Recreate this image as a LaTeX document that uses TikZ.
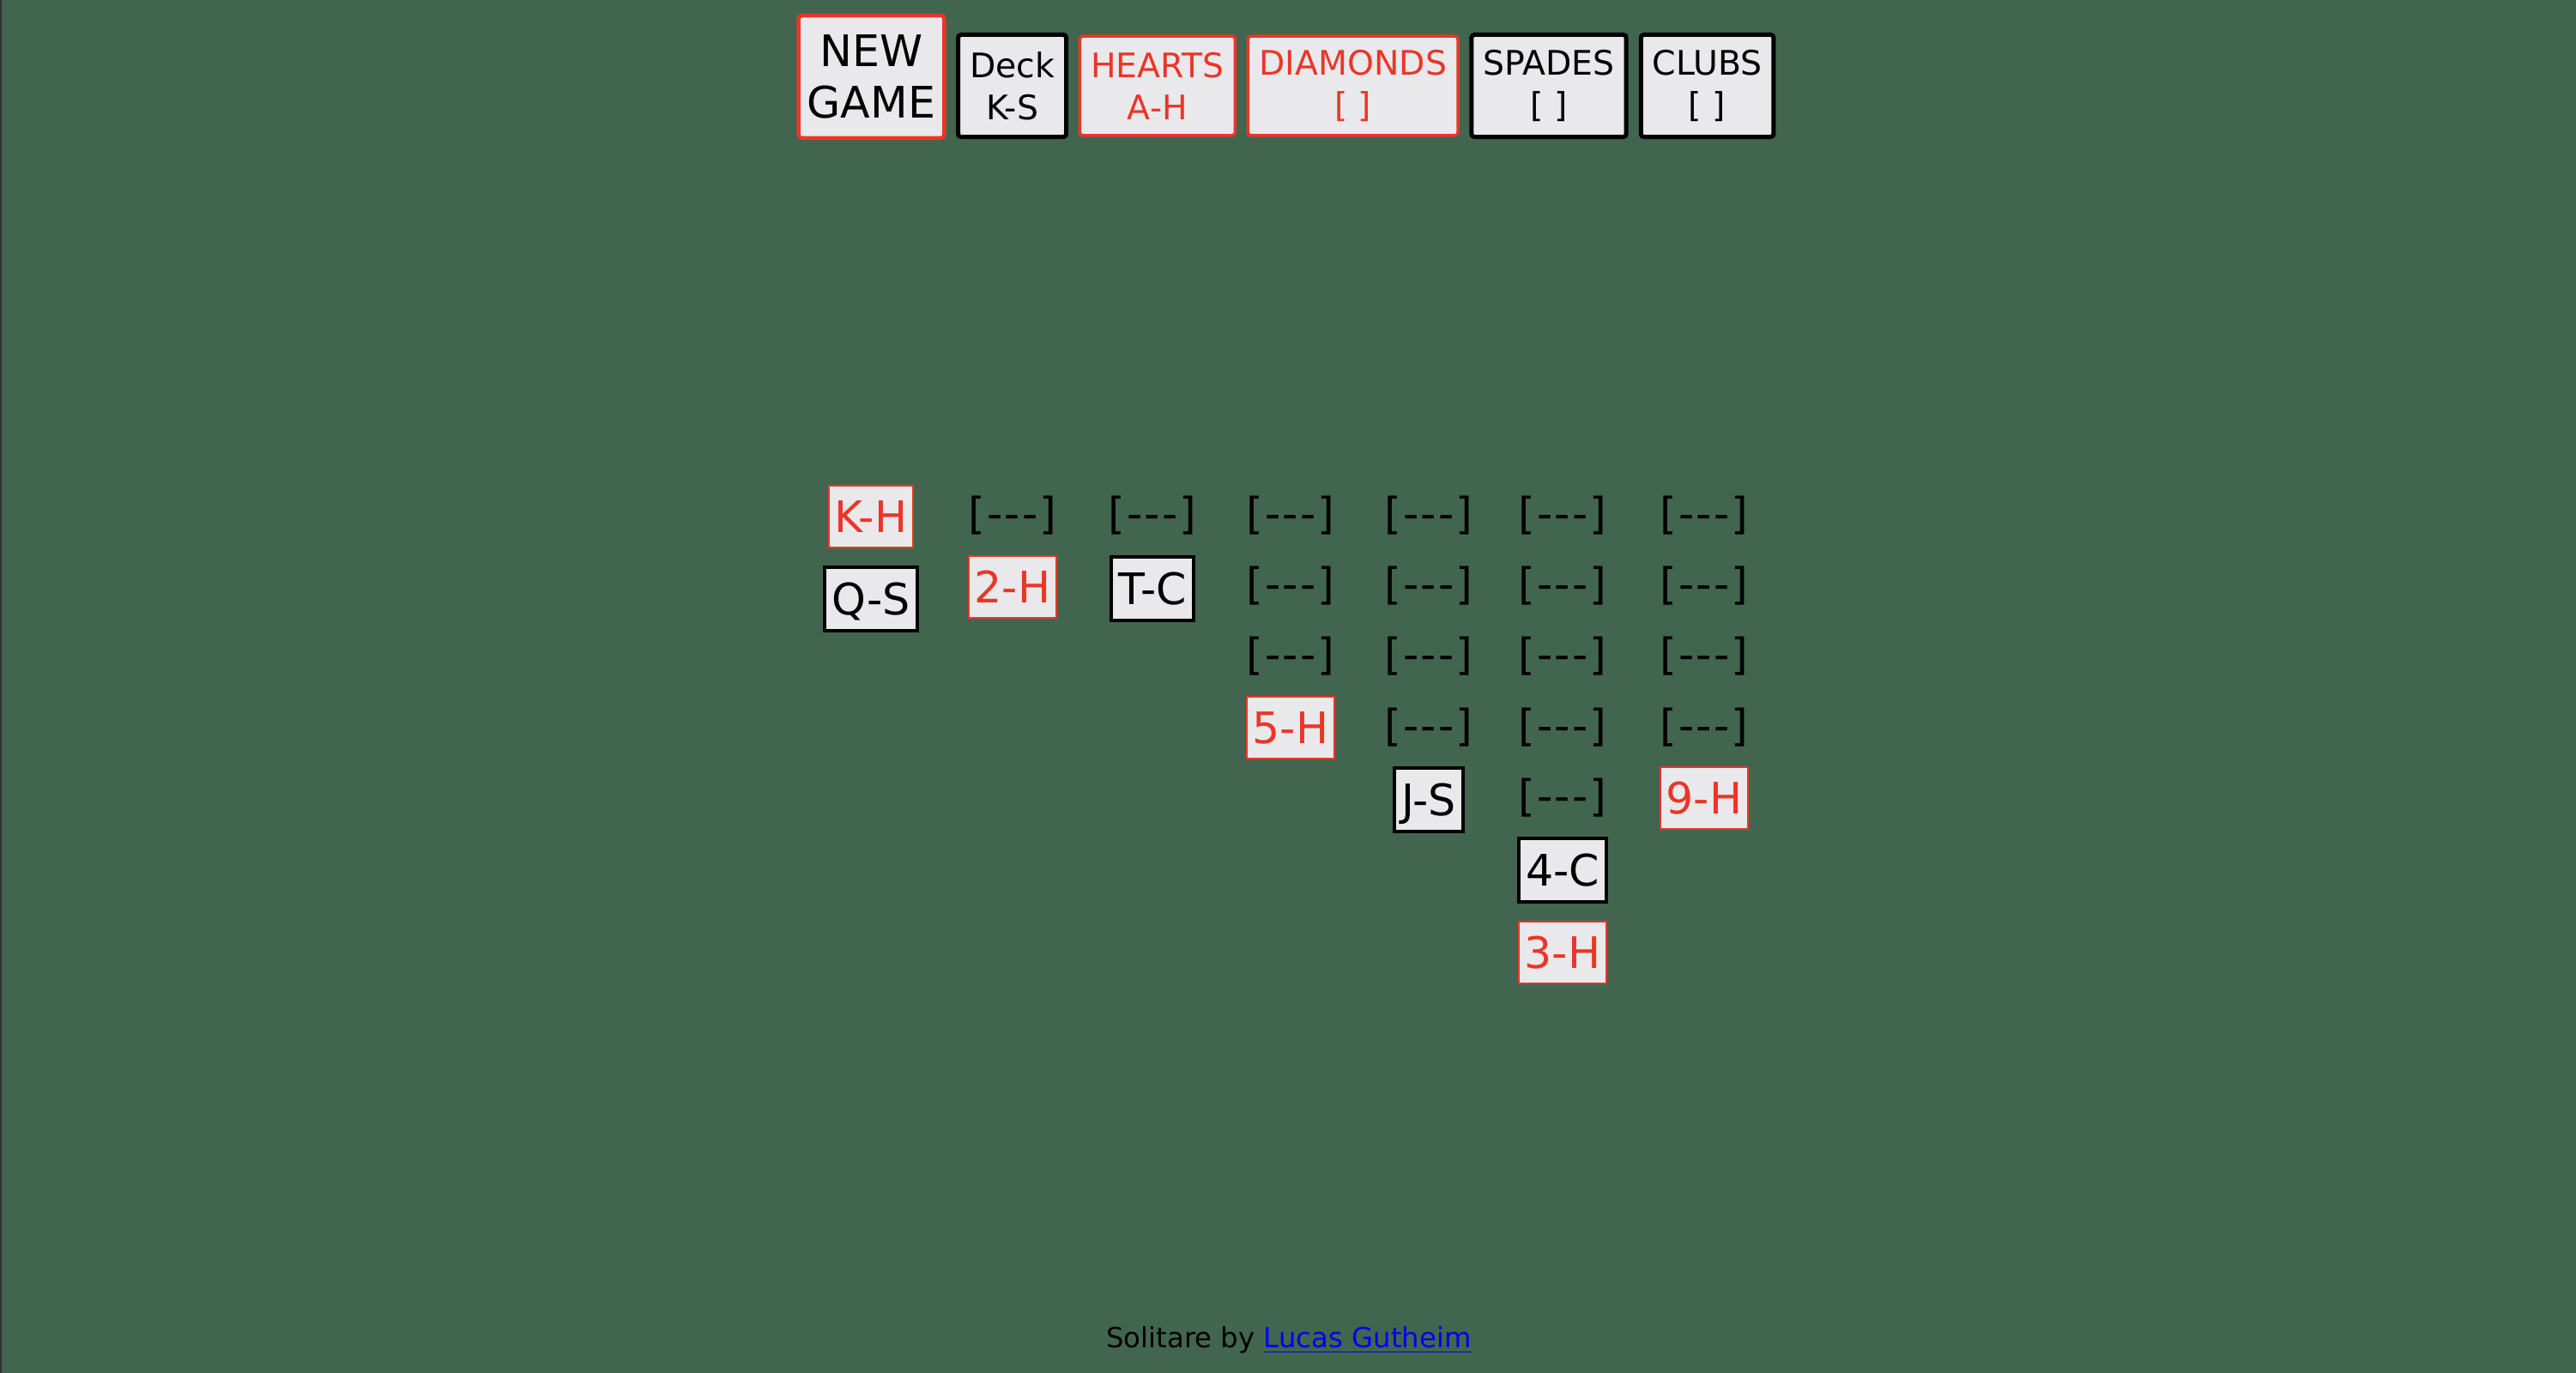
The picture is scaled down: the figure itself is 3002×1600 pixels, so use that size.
\documentclass[tikz,border=0pt]{standalone}
\usepackage{fontspec}
\setmainfont{DejaVu Sans}[Ligatures=TeXOff]
\usetikzlibrary{positioning}
\definecolor{feltgreen}{RGB}{66, 101, 80}
\definecolor{cardgray}{RGB}{233, 233, 235}
\definecolor{suitred}{RGB}{234, 54, 40}
\definecolor{linkblue}{RGB}{0, 0, 238}
\definecolor{edgegray}{RGB}{43, 50, 54}
\newcommand{\cardfont}{\fontsize{14.4pt}{17.1pt}\selectfont}
\newcommand{\pilefont}{\fontsize{11.2pt}{13.9pt}\selectfont}
\newcommand{\hiddencard}{[\kern.6pt-\kern.6pt-\kern.6pt-\kern.6pt]}

\begin{document}
\begin{tikzpicture}[
    x=0.01cm, y=-0.01cm, % one unit = one screenshot pixel
    node distance=1.2mm, % Gap between stacked tableau rows
    pile/.style={ % Foundation and deck boxes on the top row
        rectangle,
        rounded corners=0.35mm,
        fill=cardgray,
        font=\pilefont,
        align=center,
        inner ysep=0pt
    },
    redpile/.style={pile, draw=suitred, text=suitred, line width=0.35mm,
        minimum height=11.55mm, inner xsep=1.3mm},
    blackpile/.style={pile, draw=black, text=black, line width=0.5mm,
        minimum height=11.9mm, inner xsep=1.35mm},
    % Face up cards of the tableau
    card/.style={
        rectangle,
        fill=cardgray,
        font=\cardfont,
        text height=10.5pt, text depth=0pt,
        inner ysep=0pt
    },
    redcard/.style={card, draw=suitred, text=suitred, line width=0.2mm,
        minimum height=7.2mm, inner xsep=0.7mm},
    blackcard/.style={card, draw=black, text=black, line width=0.4mm,
        minimum height=7.4mm, inner xsep=0.8mm},
    % Face down cards, no box
    facedown/.style={font=\cardfont, inner sep=0pt, outer sep=0pt, minimum height=7mm}
]

% Table and page edge
\fill[feltgreen] (0,0) rectangle (3002,1600);
\fill[edgegray] (0,0) rectangle (2,1600);
\useasboundingbox (0,0) rectangle (3002,1600);

% Top row
\node[redpile, text=black, font=\cardfont, minimum height=14.25mm, line width=0.45mm, inner xsep=1.0mm]
    (newgame) at (1015.5,89.5) {NEW\\GAME};
\node[blackpile] (deck) [right=1.15mm of newgame, yshift=-1.05mm] {Deck\\K-S};
\node[redpile] (hearts) [right=1.15mm of deck] {HEARTS\\A-H};
\node[redpile] (diamonds) [right=1.15mm of hearts] {DIAMONDS\\{[ ]}};
\node[blackpile] (spades) [right=1.15mm of diamonds] {SPADES\\{[ ]}};
\node[blackpile] (clubs) [right=1.2mm of spades] {CLUBS\\{[ ]}};

% Column 1
\node[redcard] (kh) at (1015,602) {K-H};
\node[blackcard] (qs) [below=2mm of kh] {Q-S};

% Column 2
\node[facedown] (c2a) at (1180,601) {\hiddencard};
\node[redcard] (twoh) [below=1.1mm of c2a] {2-H};

% Column 3
\node[facedown] (c3a) at (1343,601) {\hiddencard};
\node[blackcard] (tc) [below=1.1mm of c3a] {T-C};

% Column 4
\node[facedown] (c4a) at (1504,601) {\hiddencard};
\node[facedown] (c4b) [below=of c4a] {\hiddencard};
\node[facedown] (c4c) [below=of c4b] {\hiddencard};
\node[redcard] (fiveh) [below=1.1mm of c4c] {5-H};

% Column 5
\node[facedown] (c5a) at (1665,601) {\hiddencard};
\node[facedown] (c5b) [below=of c5a] {\hiddencard};
\node[facedown] (c5c) [below=of c5b] {\hiddencard};
\node[facedown] (c5d) [below=of c5c] {\hiddencard};
\node[blackcard] (js) [below=1.1mm of c5d] {J-S};

% Column 6
\node[facedown] (c6a) at (1821,601) {\hiddencard};
\node[facedown] (c6b) [below=of c6a] {\hiddencard};
\node[facedown] (c6c) [below=of c6b] {\hiddencard};
\node[facedown] (c6d) [below=of c6c] {\hiddencard};
\node[facedown] (c6e) [below=of c6d] {\hiddencard};
\node[blackcard] (fourc) [below=1.1mm of c6e] {4-C};
\node[redcard] (threeh) [below=2mm of fourc] {3-H};

% Column 7
\node[facedown] (c7a) at (1986,601) {\hiddencard};
\node[facedown] (c7b) [below=of c7a] {\hiddencard};
\node[facedown] (c7c) [below=of c7b] {\hiddencard};
\node[facedown] (c7d) [below=of c7c] {\hiddencard};
\node[redcard] (nineh) [below=1.1mm of c7d] {9-H};

% Footer
\node[font=\fontsize{9.2pt}{11pt}\selectfont, inner sep=0pt, anchor=base] (credit) at (1502,1570)
    {Solitare by \textcolor{linkblue}{\underline{Lucas Gutheim}}};

\end{tikzpicture}
\end{document}
